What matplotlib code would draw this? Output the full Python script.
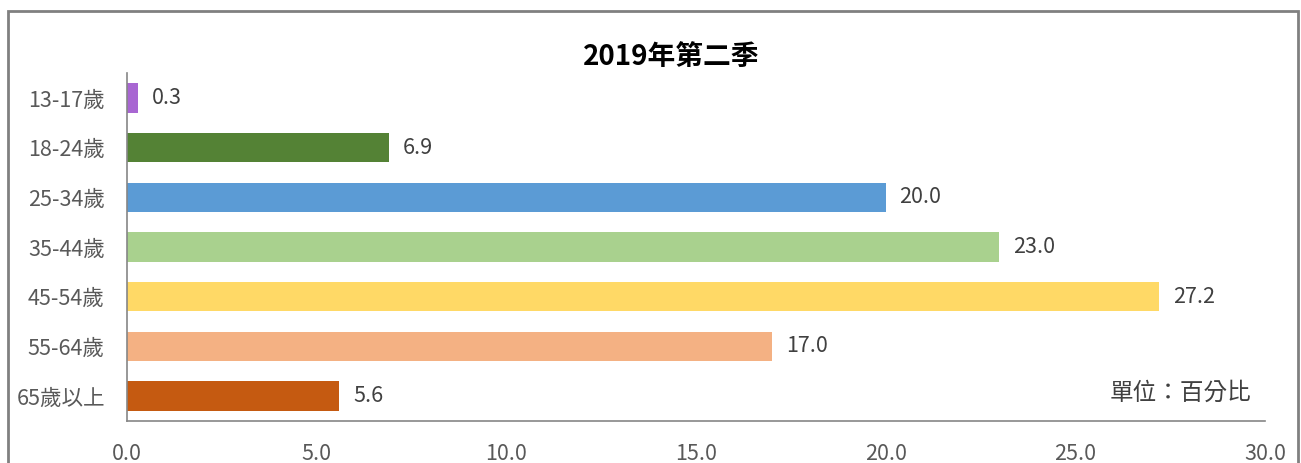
import matplotlib
matplotlib.use('Agg')
import matplotlib.pyplot as plt
from matplotlib.patches import Rectangle

plt.rcParams['font.family'] = ['Noto Sans CJK TC', 'DejaVu Sans']

# data
groups = ['13-17歲', '18-24歲', '25-34歲', '35-44歲', '45-54歲', '55-64歲', '65歲以上']
values = [0.3, 6.9, 20.0, 23.0, 27.2, 17.0, 5.6]
colors = ['#A866D2', '#548235', '#5B9BD5', '#A9D18E', '#FFD966', '#F4B183', '#C55A11']
xticks = [0, 5, 10, 15, 20, 25, 30]
title = '2019年第二季'
unit = '單位：百分比'

fig = plt.figure(figsize=(13.01, 4.63), dpi=100)
ax = fig.add_axes([0.0976, 0.0907, 0.8747, 0.7516])

pos = list(range(len(groups)))
ax.barh(pos, values, height=0.59, color=colors)
ax.set_ylim(len(groups) - 0.5, -0.5)
ax.set_xlim(0, 30)
ax.set_yticks(pos)
ax.set_yticklabels(groups)
ax.set_xticks(xticks)
ax.set_xticklabels(['%.1f' % t for t in xticks])
ax.tick_params(axis='both', length=0, labelsize=15.5, colors='#595959')
ax.tick_params(axis='y', pad=16)
ax.tick_params(axis='x', pad=16)

for p, v in zip(pos, values):
    ax.annotate('%.1f' % v, (v, p), xytext=(10, 0), textcoords='offset points',
                va='center', ha='left', fontsize=15.5, color='#404040')

for s in ['top', 'right']:
    ax.spines[s].set_visible(False)
for s in ['left', 'bottom']:
    ax.spines[s].set_color('#868686')
    ax.spines[s].set_linewidth(1.2)

ax.text(0.988, 0.08, unit, transform=ax.transAxes, ha='right', va='center',
        fontsize=17, color='#404040')

fig.text(0.516, 0.877, title, ha='center', va='center', fontsize=20,
         fontweight='bold', color='black')

# outer chart-area border
fig.patches.append(Rectangle((0.0065, -0.1), 0.9915, 1.076, transform=fig.transFigure,
                             fill=False, edgecolor='#808080', linewidth=2))

fig.savefig('out.png', dpi=100)
